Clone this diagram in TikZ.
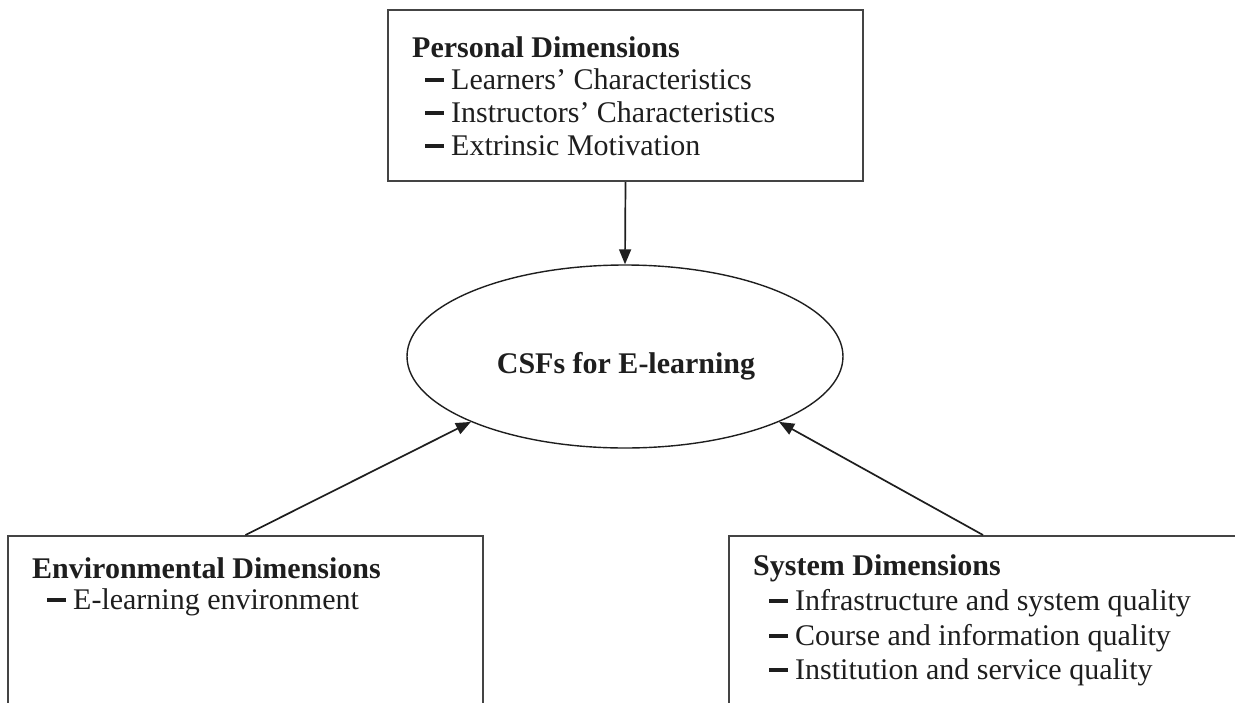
\documentclass[tikz,border=0pt]{standalone}
\usepackage{fontspec}
\setmainfont{Liberation Serif}
\usetikzlibrary{shapes.geometric,arrows.meta}
\definecolor{boxline}{HTML}{444444}
\definecolor{ink}{HTML}{1E1E1E}
\begin{document}
\begin{tikzpicture}[x=1pt,y=-1pt,
  dimbox/.style={draw=boxline,line width=2pt,rectangle,inner sep=0pt},
  csfell/.style={draw=ink,line width=1.4pt,ellipse,inner sep=0pt},
  ttl/.style={anchor=base west,inner sep=0pt,text=ink,font=\fontsize{30}{34}\selectfont\bfseries},
  itm/.style={anchor=base west,inner sep=0pt,text=ink,font=\fontsize{30}{34}\selectfont},
  link/.style={draw=ink,line width=1.7pt,-{Triangle[length=15pt,width=12pt]}}
]
\useasboundingbox (0,0) rectangle (1235,702);
\clip (0,0) rectangle (1235,702);
\newcommand{\dimdash}{\makebox[26pt][l]{\rule[7pt]{19pt}{4pt}}}

% boxes
\node[dimbox,minimum width=475pt,minimum height=171pt] (persbox) at (625.5,95.5) {};
\node[csfell,minimum width=436pt,minimum height=183pt] (csf) at (625,356.5) {};
\node[dimbox,minimum width=475pt,minimum height=184pt] (envbox) at (245.5,628) {};
\node[dimbox,minimum width=508pt,minimum height=184pt] (sysbox) at (983,628) {};

% texts
\node[ttl] (perst) at (412,57) {Personal Dimensions};
\node[itm] (pers1) at (425,89) {\dimdash Learners’ Characteristics};
\node[itm] (pers2) at (425,122) {\dimdash Instructors’ Characteristics};
\node[itm] (pers3) at (425,155) {\dimdash Extrinsic Motivation};

\node[anchor=base,inner sep=0pt,text=ink,font=\fontsize{30}{34}\selectfont\bfseries] (csft) at (626,373) {CSFs for E-learning};

\node[ttl] (envt) at (32,578) {Environmental Dimensions};
\node[itm] (env1) at (47,609) {\dimdash E-learning environment};

\node[ttl] (syst) at (753,575) {System Dimensions};
\node[itm] (sys1) at (769,610) {\dimdash Infrastructure and system quality};
\node[itm] (sys2) at (769,645) {\dimdash Course and information quality};
\node[itm] (sys3) at (769,679) {\dimdash Institution and service quality};

% connectors
\draw[link] (persbox.south) -- (csf.north);
\draw[link] (envbox.north) -- (csf.-157);
\draw[link] (sysbox.north) -- (csf.-23);
\end{tikzpicture}
\end{document}
